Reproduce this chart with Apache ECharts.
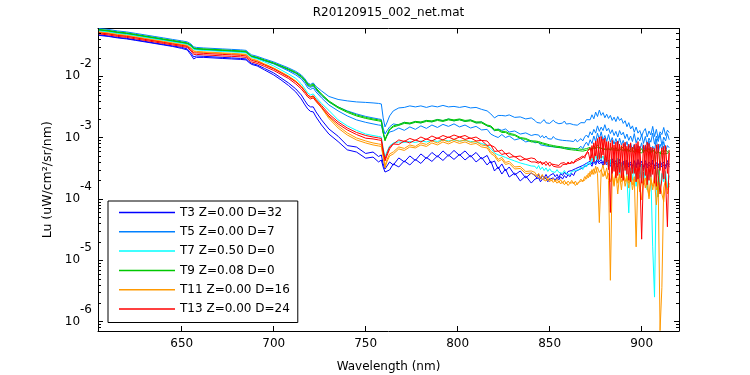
<!DOCTYPE html>
<html><head><meta charset="utf-8">
<script src="https://cdn.jsdelivr.net/npm/echarts/dist/echarts.min.js"></script>
<style>html,body{margin:0;padding:0;background:#fff;}#c{width:750px;height:375px;}</style>
</head><body><div id="c"></div>
<script>
// Values are stored in units of 1e-4 uW/cm^2/sr/nm
const UNIT = 1e-4;
const wavelength = [605,610,615,620,625,630,635,640,645,650,653,655,656.5,658,662,667,672,677,682,685,686.5,688,691,695,700,704,708,712,715,717,718.5,720,721.5,723,726,730,735,740,745,750,754,757,758.5,
759.5,760.5,761.5,763,765,768,771,774,777,780,783,786,789,792,795,798,801,804,807,810,813,816,818,820,822,824,826,828,831,834,837,840,
842,843,844,845,846,847,848,849,850,851,852,853,854,855,856,857,858,859,860,861,862,863,864,865,866,867,868,869,870,871,
872,873,874,875,876,877,878,879,880,881,882,883,884,885,886,887,888,889,890,891,892,893,894,895,896,897,898,899,900,901,
902,903,904,905,906,907,908,909,910,911,912,913,914,915];

const T3_a = [472,454,430,414,391,370,349,330,312,295,279,240,207,214,211,207,203,199,195,191.5,174.4,161.8,152.9,134.1,113.2,93.8,77.7,62.1,49.5,39.6,34.0,31.6,31.6,26.2,19.4,13.8,10.5,7.4,7.0,5.5,5.8,4.9,5.2,
3.71,3.07,3.19,4.00,3.57,4.65,4.00,5.01,4.23,5.40,4.56,5.71,4.83,6.05,5.01,6.16,5.11,6.05,4.83,5.71,4.48,5.11,3.85,4.15,3.07,3.71,2.85,3.31,2.45,2.85,2.19,2.64,
2.4,2.2,2.5,2.1,2.4,2.2,2.5,2.2,2.4,2.3, 2.6,2.3,2.5,2.2,2.6,2.4,2.7,2.5,2.8,2.6, 2.9,2.7,3.1,2.9,3.3,3.1,3.5,3.3,3.8,3.6,
4.1,3.7,4.4,3.9,4.6,4.0,4.4,3.8,4.5,3.9, 4.3,3.7,4.5,3.8,4.2,3.6,4.4,3.7,4.1,3.5, 4.3,3.6,4.0,3.4,4.2,3.5,4.4,3.6,4.1,3.3,
4.2,3.5,4.0,3.6,4.3,3.4,3.9,3.5,4.1,3.6, 4.0,3.4,4.2,3.6];
const T3_b = [463,446,422,406,384,363,343,324,306,284,269,223,191.5,203,203,199,195,191.5,188,184.5,168,155.8,147.2,126.7,105,87,70.8,55.4,42.6,34.0,29.3,26.7,26.2,21.7,16.0,11.4,8.6,6.3,5.8,4.6,4.8,4.0,4.3,
3.31,2.74,2.85,2.96,3.71,3.31,4.15,3.57,4.40,3.78,4.74,4.08,5.01,4.23,5.20,4.40,5.30,4.31,5.11,4.00,4.74,3.57,4.15,2.85,3.31,2.54,3.07,2.27,2.64,1.96,2.36,1.81,
2.1,2.0,2.2,1.9,2.1,1.95,2.15,1.9,2.1,2.0, 2.2,2.0,2.25,2.05,2.3,2.1,2.4,2.2,2.5,2.3, 2.6,2.4,2.8,2.6,3.0,2.8,3.2,3.0,3.5,3.3,
3.8,3.4,4.1,3.6,4.2,3.7,4.0,3.5,4.1,3.6, 3.9,3.4,4.1,3.5,3.8,3.3,4.0,3.4,3.8,3.2, 3.9,3.3,3.7,3.1,3.9,3.2,4.0,3.3,3.7,3.0,
3.8,3.2,3.6,3.3,3.9,3.1,3.6,3.2,3.7,3.3, 3.6,3.1,3.8,3.3];
const T5_a = [600,580,548,528,499,472,446,422,398,377,363,336,301,295,289,284,279,274,269,264,240,223,211,191.5,171,153,137,120,105,90.4,77.7,73.5,77.7,68.2,57.6,46.8,41.8,39.6,38.1,37.4,36.7,36.0,35.3,
20.9,14.9,17.3,22.5,27.2,30.4,31.0,32.8,31.6,32.8,31.0,32.8,31.6,33.4,31.6,32.2,31.0,32.2,30.4,31.0,28.8,27.2,24.3,20.9,22.9,22.9,22.5,23.4,21.3,21.7,20.1,20.9,
19.0,17.6,18.8,17.2,18.4,19.6,17.4,18.6,17.0,18.2, 19.2,17.8,18.4,16.8,18.0,17.2,18.6,16.6,17.8,16.9, 17.6,16.2,17.4,15.9,16.8,17.5,18.8,17.4,19.6,21.0,
19.5,23.5,20.2,26.0,22.0,28.0,23.0,25.5,21.0,24.0, 20.5,23.0,19.0,21.5,18.2,22.0,19.0,20.5,17.0,18.8, 15.0,17.5,13.8,15.5,12.2,14.8,11.8,13.0,10.5,12.6,
14.0,10.2,12.8,11.0,15.2,10.4,13.6,9.6,12.4,11.2, 14.6,10.8,13.2,12.0];
const T5_b = [569,548,518,499,472,446,422,398,377,356,343,318,284,279,274,269,264,259,254,249,227,211,199,181,161.8,144.5,126.7,111.1,95.6,82.2,69.5,65.6,69.5,59.8,47.7,38.1,31.6,27.2,24.3,22.1,20.9,20.1,19.7,
14.3,11.4,12.8,14.9,16.7,16.0,17.7,16.7,18.3,17.3,19.0,18.0,19.7,18.7,20.1,18.7,19.7,18.3,19.4,17.3,18.0,15.5,14.9,12.8,13.8,13.1,13.8,12.3,12.8,11.4,11.9,10.8,
11.2,10.4,11.0,10.0,10.8,9.8,10.6,9.6,10.2,9.4, 10.4,9.6,10.0,9.2,9.8,9.0,9.6,8.9,9.4,8.8, 9.2,8.6,9.4,8.5,9.0,9.6,8.8,10.2,11.0,10.0,
12.4,11.0,13.6,11.8,15.5,12.6,14.8,13.0,16.2,12.8, 14.2,11.6,13.4,10.8,12.6,10.2,13.0,11.0,12.2,9.6, 11.4,9.0,10.6,8.6,11.6,8.2,10.0,8.8,11.2,8.0,
10.4,7.6,9.8,8.4,11.8,7.8,10.6,8.6,11.4,7.4, 10.2,8.8,11.6,9.2];
const T5_c = [558,538,509,490,463,438,414,391,370,349,336,312,279,274,269,264,259,254,249,245,223,207,195,177.7,158.8,139.2,122,105,90.4,76.3,64.4,60.9,64.4,55.4,44.3,34.0,27.2,22.5,19.4,17.7,16.7,16.0,15.8,
11.9,9.49,10.6,12.3,12.8,14.3,13.1,14.9,13.6,15.5,14.1,16.0,14.6,16.4,15.2,16.7,14.9,16.0,14.3,15.2,13.3,13.6,11.4,10.6,10.0,11.2,10.0,10.6,9.14,9.67,8.48,8.97,
8.2,7.8,8.4,7.6,8.0,7.4,7.9,7.2,7.7,7.1, 7.6,7.0,7.4,6.9,7.3,6.8,7.2,6.7,7.0,6.6, 7.0,6.5,6.9,6.4,6.8,7.2,6.6,7.6,8.4,7.4,
9.2,8.0,10.6,8.6,11.8,9.4,12.4,9.0,10.8,8.6, 11.2,8.4,10.0,7.8,9.6,7.4,9.8,7.6,9.0,7.0, 8.6,6.6,8.0,6.2,7.8,5.8,7.4,6.4,8.2,5.6,
7.6,6.0,8.8,5.8,7.2,6.2,9.4,5.6,7.8,6.4, 8.6,6.0,7.4,6.8];
const T7_a = [548,528,499,481,454,430,406,384,363,343,330,306,274,269,264,259,254,249,245,240,219,203,191.5,171.2,147.2,126.7,109,92.1,74.9,62.1,53.4,49.5,51.4,45.1,36.0,27.7,19.4,15.5,13.1,11.4,10.8,10.4,10.2,
6.77,4.83,5.82,7.29,8.16,8.48,8.32,8.64,8.32,8.80,8.48,8.97,8.64,9.14,8.80,9.14,8.80,8.97,8.64,8.48,8.01,7.43,6.64,5.61,5.20,5.01,4.74,4.48,4.15,3.85,3.64,3.44,
3.4,3.1,3.5,3.0,3.3,2.9,3.2,2.8,3.1,2.8, 3.0,2.7,3.0,2.7,2.9,2.6,2.9,2.6,2.8,2.5, 2.8,2.6,2.9,2.7,3.0,3.3,3.0,3.6,3.3,4.0,
3.6,4.6,3.9,5.2,4.2,5.6,4.4,5.0,3.8,4.8, 3.2,4.4,2.6,4.0,3.0,4.6,2.4,3.8,2.8,4.2, 2.2,0.59,3.2,2.0,3.8,1.6,3.4,2.2,3.6,1.8,
3.2,1.4,3.0,2.6,0.165,0.025,2.4,3.0,1.3,2.6, 1.9,2.8,1.5,2.4];
const T9_a = [580,558,528,509,481,454,430,406,384,363,349,324,289,284,279,274,269,264,259,254,231,214,203,184.5,164.8,147.2,131.6,115.3,101,87,74.9,70.8,74.9,64.4,51.4,39.6,31.6,26.7,23.4,21.3,20.1,19.4,19.0,
12.3,9.14,11.0,13.8,15.5,16.4,17.7,17.3,18.3,18.0,19.0,18.7,19.7,19.0,20.1,19.4,20.1,19.0,19.4,18.0,18.0,16.0,15.5,13.6,13.6,12.6,12.6,11.7,11.2,10.0,9.67,8.80,
8.8,8.4,8.6,8.0,8.2,7.7,7.9,7.4,7.6,7.2, 7.4,7.0,7.2,6.9,7.1,6.7,6.9,6.6,6.8,6.5, 6.7,6.3,6.6,6.2,6.5,6.1,6.4,6.2,6.6,6.3,
6.9,6.4,7.3,6.6,7.6,6.8,7.2,6.5,7.0,6.3, 6.8,6.2,7.0,6.4,6.9,6.1,6.7,6.3,6.9,6.0, 6.6,5.9,6.4,6.1,6.8,5.8,6.5,6.0,6.6,5.7,
6.4,5.9,6.7,5.6,6.3,5.8,6.1,1.07,5.6,6.2, 5.7,6.4,5.8,6.2];
const T9_b = [569,548,518,499,472,446,422,398,377,356,343,318,284,279,274,269,264,259,254,249,227,211,199,181,161.8,144.5,129.1,113.2,97.4,83.8,72.1,68.2,72.1,62.1,49.5,38.1,30.4,25.7,22.5,20.5,19.4,18.7,18.3,
11.9,8.80,10.6,13.3,14.9,15.8,17.0,16.7,17.7,17.3,18.3,18.0,19.0,18.3,19.4,18.7,19.4,18.3,18.7,17.3,17.3,15.5,14.9,13.1,13.1,12.1,12.1,11.2,10.8,9.67,9.32,8.48,
8.5,8.7,8.2,8.3,7.9,8.0,7.6,7.7,7.3,7.4, 7.1,7.2,6.9,7.0,6.8,6.9,6.6,6.7,6.4,6.6, 6.3,6.5,6.2,6.4,6.1,6.3,6.0,6.4,6.2,6.6,
6.5,7.0,6.7,7.2,6.9,7.4,6.7,7.1,6.5,6.9, 6.4,6.8,6.3,6.7,6.2,6.6,6.1,6.6,6.0,6.5, 5.9,6.4,5.8,6.3,5.7,6.4,5.8,6.2,5.6,6.1,
5.7,6.2,5.5,6.0,5.6,6.1,5.4,6.0,5.5,5.9, 5.4,5.8,5.5,5.9];
const T11_a = [528,509,481,463,438,414,391,370,349,330,318,289,259,254,249,245,240,236,231,227,207,191.5,181,158.8,136.6,117.5,101,83.8,69.5,57.6,49.5,45.9,47.7,41.1,31.6,21.7,15.5,11.9,9.85,8.80,8.16,7.86,7.71,
5.20,3.44,4.31,5.40,5.82,7.03,6.64,7.57,7.16,8.16,7.71,8.80,8.16,9.14,8.48,9.32,8.64,9.14,8.32,8.64,7.57,7.29,5.93,5.40,4.40,4.74,3.93,4.08,3.31,3.38,2.80,2.85,
2.7,2.4,2.6,2.2,2.5,2.1,2.3,2.0,2.2,1.95, 2.15,1.9,2.1,1.85,2.05,1.8,2.0,1.75,1.95,1.8, 2.0,1.75,1.95,1.7,1.9,2.1,1.9,2.3,2.1,2.6,
2.3,3.0,2.5,3.4,2.6,0.41,2.8,3.6,2.4,3.2, 2.0,0.047,2.6,1.6,2.9,1.8,2.5,1.4,2.7,1.9, 2.4,1.5,2.8,1.7,2.3,0.165,2.6,1.6,0.96,2.2,
1.5,2.4,1.0,2.3,1.4,2.0,0.8,1.7,0.0071,0.036, 1.5,2.1,1.2,1.8];
const T11_b = [518,499,472,454,430,406,384,363,343,324,312,284,254,249,245,240,236,231,227,223,203,188,177.7,155.8,134.1,115.3,99.2,82.2,68.2,56.5,48.6,45.1,45.9,39.6,30.4,20.5,14.3,11.0,9.14,8.16,7.57,7.29,7.16,
4.83,3.19,4.00,5.01,5.40,6.52,6.16,7.03,6.77,7.57,7.16,8.16,7.57,8.48,7.86,8.64,8.01,8.48,7.71,8.01,7.03,6.77,5.50,5.01,4.08,4.40,3.64,3.78,3.07,3.13,2.59,2.64,
2.45,2.6,2.25,2.4,2.1,2.25,1.95,2.15,1.9,2.05, 1.85,2.0,1.8,1.95,1.75,1.9,1.7,1.85,1.65,1.8, 1.7,1.85,1.65,1.8,1.75,1.95,2.1,2.0,2.4,2.2,
2.8,2.5,3.1,2.6,3.3,2.7,3.0,2.3,2.8,2.1, 2.6,1.9,2.4,1.7,2.7,1.2,2.5,1.9,2.6,1.6, 2.2,1.8,2.5,1.4,2.1,1.9,2.3,1.3,2.0,1.7,
2.2,1.5,1.1,2.0,1.6,2.3,1.4,1.9,1.7,1.2, 0.9,1.9,1.4,1.6];
const T13_a = [509,490,463,446,422,398,377,356,336,318,306,274,240,240,236,231,227,223,219,214,195,181,171.2,152.9,131.6,113.2,97.4,80.7,66.9,56.5,49.5,45.9,47.7,41.8,33.4,24.3,18.0,14.3,12.1,10.8,10.2,9.85,9.67,
6.28,4.48,5.40,7.03,7.86,9.14,8.64,9.67,8.97,10.2,9.32,10.6,9.67,10.8,10.0,11.0,10.2,10.8,9.67,10.2,8.97,8.80,7.43,7.03,5.93,6.28,5.40,5.61,4.83,5.01,4.40,4.65,
4.5,4.1,4.4,3.9,4.2,3.8,4.1,3.7,4.0,3.7, 3.9,3.6,3.8,3.5,3.8,3.6,3.9,3.6,4.0,3.7, 4.1,3.8,4.3,4.0,4.6,4.3,5.0,4.6,5.6,5.2,
6.8,4.6,8.2,5.0,9.6,4.4,10.4,5.2,9.8,4.0, 8.6,0.6,9.0,2.8,8.4,2.4,7.8,2.2,8.0,2.9, 7.2,2.0,8.2,2.6,7.6,1.9,8.6,2.5,0.22,2.8,
7.4,1.7,8.0,2.3,6.8,1.8,7.6,2.4,1.2,2.1, 7.2,2.0,0.35,5.6];
const T13_b = [490,472,446,430,406,384,363,343,324,306,295,259,227,227,223,219,214,211,207,203,184.5,171.2,161.8,144.5,124.3,107,92.1,74.9,62.1,52.4,45.9,42.6,44.3,38.8,31.0,22.5,16.7,13.3,11.2,9.76,9.49,9.14,8.97,
5.82,4.15,5.01,6.52,7.86,7.71,8.80,8.16,9.14,8.48,9.49,8.80,9.85,9.14,10.2,9.32,10.2,9.32,9.85,8.80,8.97,7.43,7.57,5.93,6.05,5.30,5.50,4.74,4.92,4.23,4.48,4.00,
4.0,4.3,3.8,4.1,3.6,3.9,3.5,3.8,3.4,3.7, 3.4,3.6,3.3,3.5,3.3,3.6,3.4,3.7,3.5,3.8, 3.6,3.9,3.8,4.2,4.0,4.5,4.4,5.0,4.8,5.8,
4.2,7.4,4.0,8.8,4.4,10.2,4.6,9.4,3.6,8.6, 3.0,8.2,2.6,7.6,2.2,8.8,2.7,7.4,2.0,8.4, 2.5,7.8,1.9,7.0,2.6,8.0,2.1,7.2,1.8,7.6,
2.4,8.4,2.0,7.0,2.5,6.6,1.6,7.8,2.9,6.8, 2.1,7.4,2.6,6.2];

const legendNames = ['T3 Z=0.00 D=32','T5 Z=0.00 D=7','T7 Z=0.50 D=0','T9 Z=0.08 D=0','T11 Z=0.00 D=16','T13 Z=0.00 D=24'];
const xTickLabels = [650,700,750,800,850,900];
const minorTicks = [8e-7,9e-7,2e-6,3e-6,4e-6,5e-6,6e-6,7e-6,8e-6,9e-6,2e-5,3e-5,4e-5,5e-5,6e-5,7e-5,8e-5,9e-5,
  2e-4,3e-4,4e-4,5e-4,6e-4,7e-4,8e-4,9e-4,2e-3,3e-3,4e-3,5e-3,6e-3,7e-3,8e-3,9e-3,2e-2,3e-2,4e-2,5e-2];

const X_MIN = 604.5, X_MAX = 920.3, Y_MIN = 7e-7, Y_MAX = 0.06;
const FONT = 'DejaVu Sans';

const groups = [
  {name: legendNames[0], color: '#0000ff', lines: [T3_a, T3_b]},
  {name: legendNames[1], color: '#0080ff', lines: [T5_a, T5_b, T5_c]},
  {name: legendNames[2], color: '#00ffff', lines: [T7_a]},
  {name: legendNames[3], color: '#00c800', lines: [T9_a, T9_b]},
  {name: legendNames[4], color: '#ff9900', lines: [T11_a, T11_b]},
  {name: legendNames[5], color: '#ff0000', lines: [T13_a, T13_b]}
];

const series = [];
groups.forEach(g => g.lines.forEach(arr => {
  series.push({
    type: 'line', name: g.name, xAxisIndex: 0, yAxisIndex: 0,
    data: wavelength.map((w, i) => [w, arr[i] * UNIT]),
    symbol: 'none', showSymbol: false, silent: true, animation: false,
    lineStyle: {color: g.color, width: 1}, itemStyle: {color: g.color}
  });
}));

series.push({
  type: 'custom', xAxisIndex: 0, yAxisIndex: 0, silent: true, animation: false, z: 5,
  data: minorTicks.map(v => [X_MIN, v]),
  renderItem: function (params, api) {
    const v = api.value(1);
    const pL = api.coord([X_MIN, v]);
    const pR = api.coord([X_MAX, v]);
    const y = Math.round(pL[1]) + 0.5;
    return {type: 'group', children: [
      {type: 'line', shape: {x1: pL[0], y1: y, x2: pL[0] + 3, y2: y}, style: {stroke: '#000', lineWidth: 1}},
      {type: 'line', shape: {x1: pR[0] - 3, y1: y, x2: pR[0], y2: y}, style: {stroke: '#000', lineWidth: 1}}
    ]};
  }
});

const axisLine = {show: true, onZero: false, lineStyle: {color: '#000', width: 1}};
const tick = {show: true, inside: true, length: 5, lineStyle: {color: '#000', width: 1}};

function yLabel(v) {
  const e = Math.log10(v), r = Math.round(e);
  if (Math.abs(e - r) > 1e-6) return '';
  return '{b|10}{s|' + r + '}';
}

const chart = echarts.init(document.getElementById('c'), null, {renderer: 'canvas'});
chart.setOption({
  animation: false,
  backgroundColor: '#fff',
  grid: {left: 98, top: 28.5, width: 581, height: 302.5, containLabel: false, outerBoundsMode: 'none'},
  graphic: [{type: 'text', x: 388.5, y: 12.5, silent: true,
    style: {text: 'R20120915_002_net.mat', font: '12px "DejaVu Sans"', fill: '#000', align: 'center', verticalAlign: 'middle'}}],
  legend: {
    orient: 'vertical', left: 108, top: 201, icon: 'rect', itemWidth: 56, itemHeight: 1.5, itemGap: 7.3,
    padding: [5.5, 8, 7.5, 11], backgroundColor: '#fff', borderColor: '#000', borderWidth: 1, borderRadius: 0,
    selectedMode: false,
    textStyle: {fontFamily: FONT, fontSize: 12, color: '#000', lineHeight: 12},
    data: legendNames.map(n => ({name: n}))
  },
  xAxis: [
    {type: 'value', min: X_MIN, max: X_MAX, position: 'bottom', axisLine: axisLine, axisTick: tick,
     splitLine: {show: false},
     axisLabel: {color: '#000', fontFamily: FONT, fontSize: 12, margin: 7, showMinLabel: true, showMaxLabel: true,
       formatter: v => (xTickLabels.indexOf(Math.round(v * 1000) / 1000) >= 0 ? String(v) : '')},
     name: 'Wavelength (nm)', nameLocation: 'middle', nameGap: 30,
     nameTextStyle: {fontFamily: FONT, fontSize: 12, color: '#000'}},
    {type: 'value', min: X_MIN, max: X_MAX, position: 'top', axisLine: axisLine, axisTick: tick,
     splitLine: {show: false}, axisLabel: {show: false}}
  ],
  yAxis: [
    {type: 'log', logBase: 10, min: Y_MIN, max: Y_MAX, position: 'left', axisLine: axisLine, axisTick: tick,
     splitLine: {show: false},
     axisLabel: {margin: 6, showMinLabel: true, showMaxLabel: true, formatter: yLabel,
       rich: {
         b: {fontFamily: FONT, fontSize: 12, color: '#000', lineHeight: 36, verticalAlign: 'middle'},
         s: {fontFamily: FONT, fontSize: 12, color: '#000', lineHeight: 12, verticalAlign: 'top'}
       }},
     name: 'Lu (uW/cm²/sr/nm)', nameLocation: 'middle', nameGap: 33,
     nameTextStyle: {fontFamily: FONT, fontSize: 12.5, color: '#000'}},
    {type: 'log', logBase: 10, min: Y_MIN, max: Y_MAX, position: 'right', axisLine: axisLine, axisTick: tick,
     splitLine: {show: false}, axisLabel: {show: false}}
  ],
  series: series
});
</script></body></html>
